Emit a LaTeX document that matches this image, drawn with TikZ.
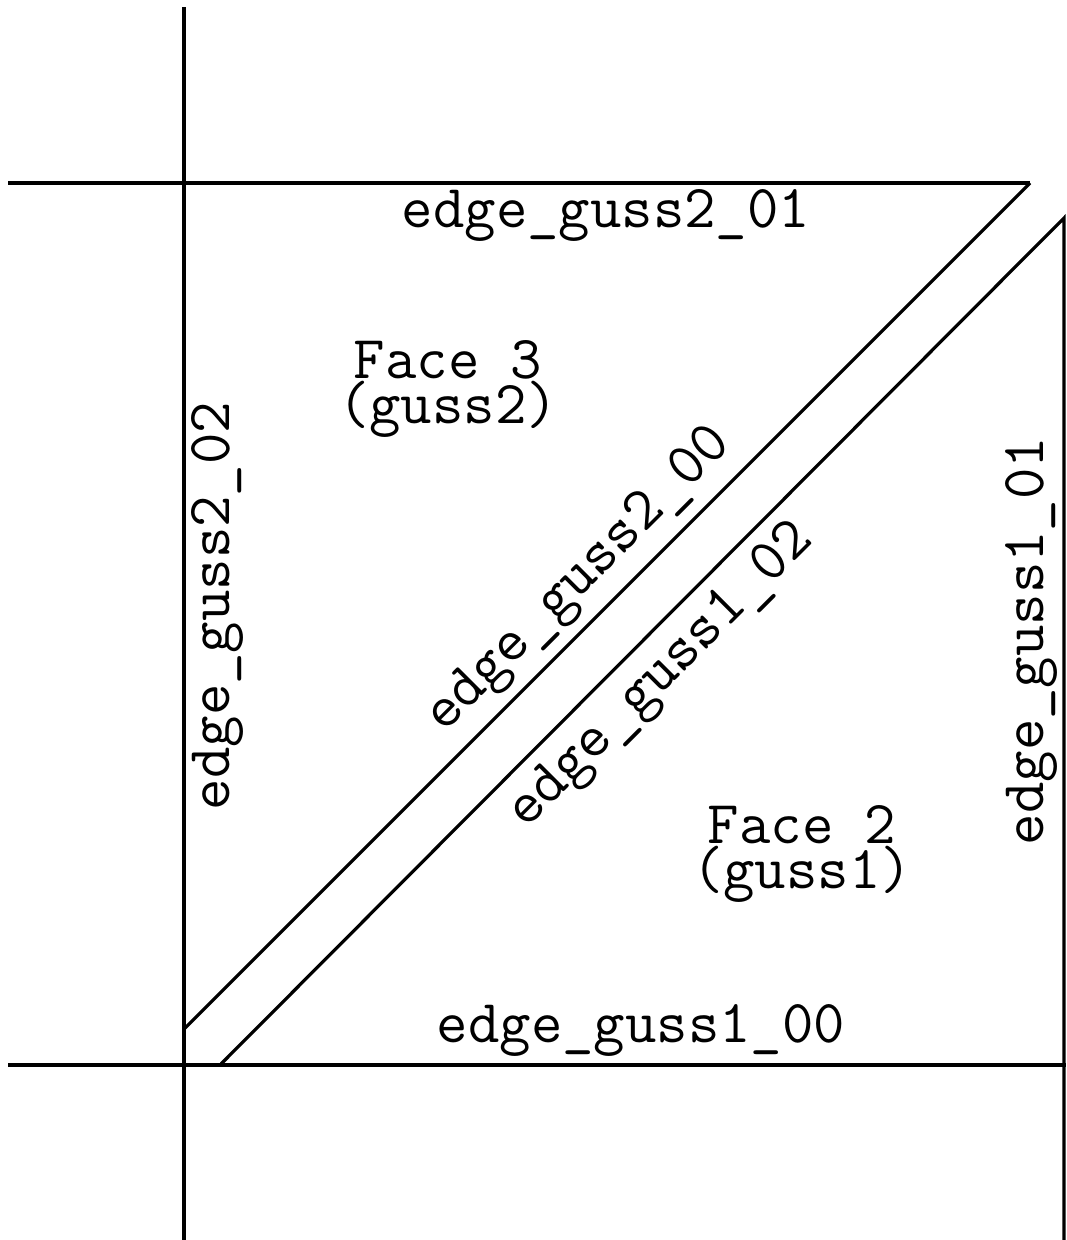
\documentclass[tikz,border=0pt]{standalone}
\begin{document}
\begin{tikzpicture}[x=1pt,y=-1pt,
  edge/.style={line width=3.2pt,line cap=butt},
  lbl/.style={inner sep=0pt,font=\ttfamily\fontsize{61}{45}\selectfont,align=center}]
\useasboundingbox (0,0) rectangle (1066,1240);
% frame points
\coordinate (vt) at (184,7);
\coordinate (vb) at (184,1240);
\coordinate (htl) at (8,183);
\coordinate (htr) at (1030,183);
\coordinate (hbl) at (8,1065);
\coordinate (hbr) at (1066,1065);
\coordinate (d2a) at (184,1029);
\coordinate (d1a) at (220,1065);
\coordinate (rt) at (1064,218);
\coordinate (rb) at (1064,1240);
% lines
\draw[edge] (vt) -- (vb);
\draw[edge] (htl) -- (htr);
\draw[edge] (hbl) -- (hbr);
\draw[edge] (d2a) -- (htr);
\draw[edge] (d1a) -- (rt) -- (rb);
% labels
\node[lbl] (e201) at (606,215) {edge\_guss2\_01};
\node[lbl] (e100) at (641,1030) {edge\_guss1\_00};
\node[lbl,rotate=90] (e202) at (217,606) {edge\_guss2\_02};
\node[lbl,rotate=90] (e101) at (1031,641) {edge\_guss1\_01};
\node[lbl,rotate=45] (e200) at (580,581) {edge\_guss2\_00};
\node[lbl,rotate=45] (e102) at (662,677) {edge\_guss1\_02};
\node[lbl] (f3) at (448,389) {Face 3\\(guss2)};
\node[lbl] (f2) at (802,854) {Face 2\\(guss1)};
\end{tikzpicture}
\end{document}
